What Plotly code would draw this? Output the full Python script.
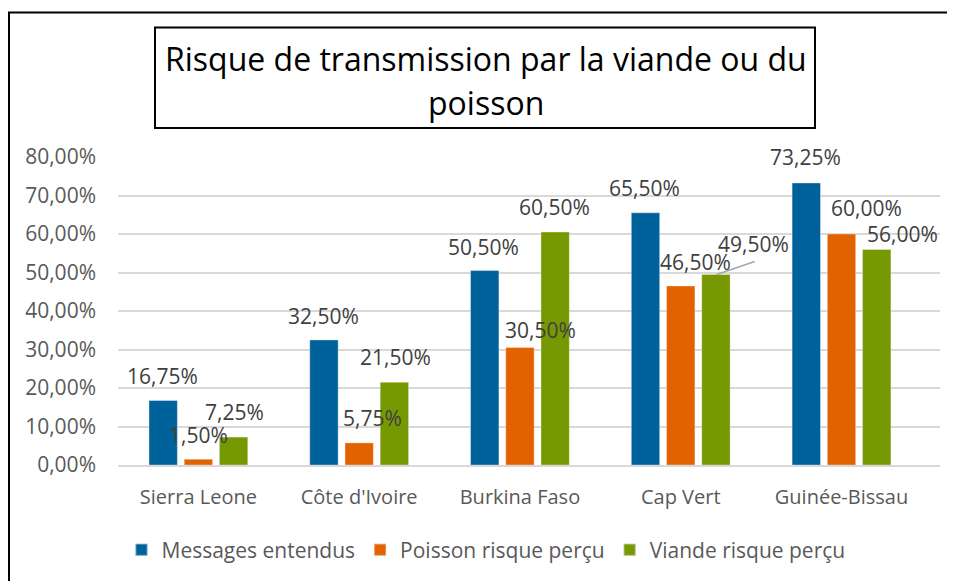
import plotly.graph_objects as go

categories = ["Sierra Leone", "Côte d'Ivoire", "Burkina Faso", "Cap Vert", "Guinée-Bissau"]
series_names = ["Messages entendus", "Poisson risque perçu", "Viande risque perçu"]
messages = [16.75, 32.50, 50.50, 65.50, 73.25]
poisson = [1.50, 5.75, 30.50, 46.50, 60.00]
viande = [7.25, 21.50, 60.50, 49.50, 56.00]
y_ticks = [0, 10, 20, 30, 40, 50, 60, 70, 80]
y_tick_labels = ["0,00%", "10,00%", "20,00%", "30,00%", "40,00%", "50,00%", "60,00%", "70,00%", "80,00%"]

colors = ["#00629B", "#E36200", "#769800"]
series_values = [messages, poisson, viande]

# label placement (pixel offsets relative to bar centre / top), as in the original
series_offset = [-36, 0, 36]
label_dx = [[0, 0, 0, 0, 0], [0, 13, 21, 15, 25], [0, 0, -1, 37, 25]]
label_dy = [[25, 24, 24, 25, 26], [24, 25, 18, 24, 26], [25, 25, 25, 30, 15]]

FONT = "Open Sans"

# page offset (body margin) compensation
OFF = 8
W, H = 955 - OFF, 581 - OFF
L, R, T, B = 118 - OFF, 15, 157 - OFF, 115
pw, ph = W - L - R, H - T - B


def px_x(p):
    return (p - OFF - L) / pw


def px_y(p):
    return (H - B - (p - OFF)) / ph


def fmt(v):
    return f"{v:.2f}".replace(".", ",") + "%"


fig = go.Figure()
for name, vals, col in zip(series_names, series_values, colors):
    fig.add_trace(go.Bar(
        x=categories, y=vals, name=name,
        marker=dict(color=col, line=dict(color="rgba(255,255,255,0.35)", width=1)),
        hoverinfo="skip",
    ))

annotations = []
for s, vals in enumerate(series_values):
    for i, v in enumerate(vals):
        annotations.append(dict(
            x=categories[i], y=v, xref="x", yref="y",
            text=fmt(v), showarrow=False,
            xshift=series_offset[s] + label_dx[s][i], yshift=label_dy[s][i],
            xanchor="center", yanchor="middle",
            font=dict(family=FONT, size=21, color="#404040"),
        ))

# title box text
annotations.append(dict(
    x=px_x(486), y=px_y(58), xref="paper", yref="paper",
    text="Risque de transmission par la viande ou du", showarrow=False,
    xanchor="center", yanchor="middle",
    font=dict(family=FONT, size=32, color="#000000"),
))
annotations.append(dict(
    x=px_x(486), y=px_y(102), xref="paper", yref="paper",
    text="poisson", showarrow=False,
    xanchor="center", yanchor="middle",
    font=dict(family=FONT, size=32, color="#000000"),
))

shapes = [
    # outer chart frame
    dict(type="rect", xref="paper", yref="paper",
         x0=px_x(9), x1=px_x(952), y0=px_y(600), y1=px_y(12),
         line=dict(color="#000000", width=2), fillcolor="rgba(0,0,0,0)", layer="below"),
    # title box
    dict(type="rect", xref="paper", yref="paper",
         x0=px_x(155), x1=px_x(815), y0=px_y(128), y1=px_y(27),
         line=dict(color="#000000", width=2), fillcolor="rgba(0,0,0,0)"),
    # leader line for the 49,50% label
    dict(type="line", xref="x", yref="y",
         xsizemode="pixel", ysizemode="pixel",
         xanchor=categories[3], yanchor=viande[3],
         x0=series_offset[2], x1=series_offset[2] + 38, y0=0, y1=13,
         line=dict(color="#A6A6A6", width=1.5)),
]

fig.update_layout(
    width=W, height=H,
    margin=dict(l=L, r=R, t=T, b=B, pad=0),
    paper_bgcolor="white", plot_bgcolor="white",
    barmode="group", bargap=0.343, bargroupgap=0.194,
    showlegend=True,
    legend=dict(orientation="h", x=px_x(486), xanchor="center", y=px_y(550), yanchor="middle",
                font=dict(family=FONT, size=21, color="#595959"),
                itemsizing="constant", traceorder="normal", itemwidth=30),
    xaxis=dict(type="category", showgrid=False, showline=True, linecolor="#D9D9D9", linewidth=1.5,
               ticks="", tickfont=dict(family=FONT, size=20, color="#595959"),
               ticklabelstandoff=13, fixedrange=True),
    yaxis=dict(range=[0, 80], tickvals=y_ticks, ticktext=y_tick_labels,
               showgrid=True, gridcolor="#D9D9D9", gridwidth=1.5, zeroline=False,
               showline=False, ticks="", tickfont=dict(family=FONT, size=21, color="#595959"),
               ticklabelstandoff=21, fixedrange=True),
    annotations=annotations,
    shapes=shapes,
    font=dict(family=FONT),
)

fig.write_html("out.html")
